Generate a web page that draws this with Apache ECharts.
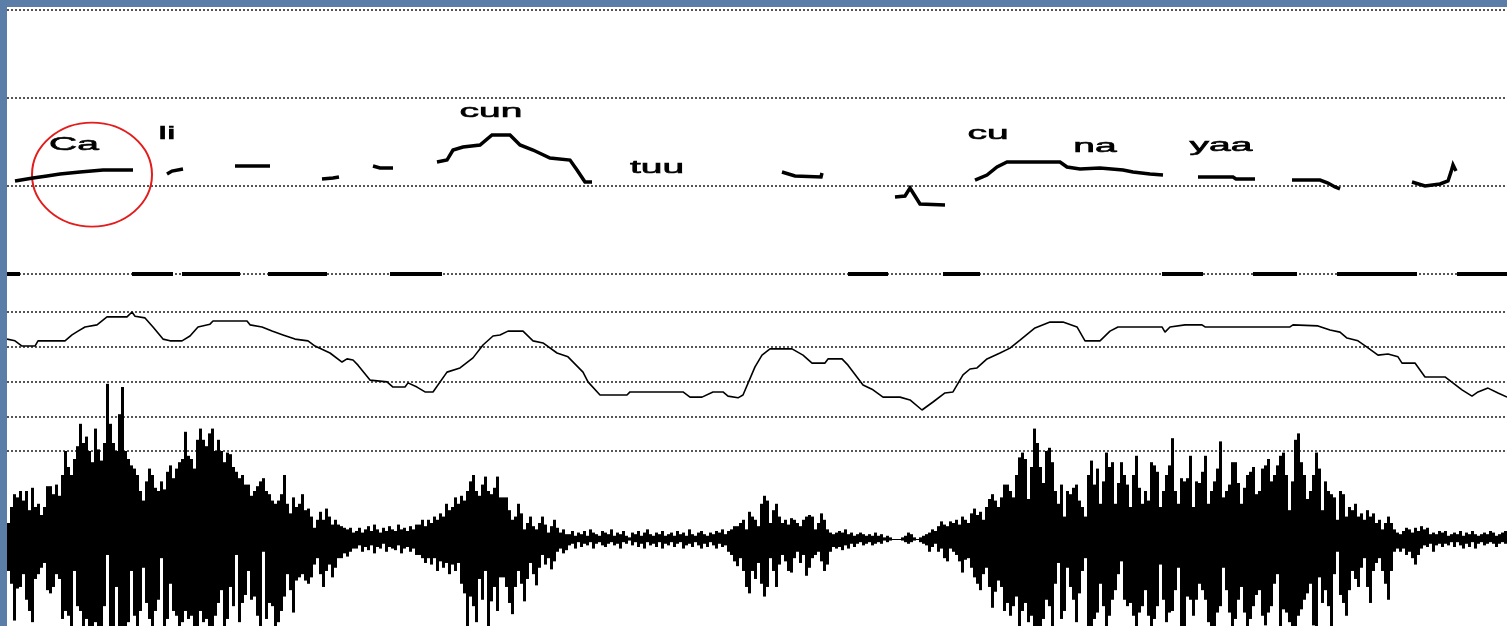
<!DOCTYPE html>
<html>
<head>
<meta charset="utf-8">
<script src="https://cdn.jsdelivr.net/npm/echarts@6/dist/echarts.min.js"></script>
<style>
  html, body { margin: 0; padding: 0; width: 1507px; height: 626px; overflow: hidden; background: #5a7ea7; }
  #chart { position: absolute; left: 7px; top: 7px; width: 1500px; height: 619px; background: #ffffff; }
</style>
</head>
<body>
<div id="chart"></div>
<script>
// Time axis in ms (0 .. 1500)

// Syllable labels and where they sit (time, Hz on the pitch scale)
const syllables    = ['Ca', 'li', 'cun', 'tuu', 'cu', 'na', 'yaa'];
const syllableTime = [67, 160, 484, 650, 981, 1088, 1214];
const syllableHz   = [147, 159.5, 184.5, 121.1, 159.5, 144.8, 145.9];

// Pitch contour (F0, Hz), one list of [time, Hz] per voiced stretch
const pitchSegments = [
  [[8,105.7],[26,109.1],[40,111.4],[53,113.6],[73,115.9],[96,118.2],[126,118.2]],
  [[160,113.6],[165,117],[176,119.3]],
  [[228,122.7],[263,122.7]],
  [[315,108],[326,109.1],[332,110.2]],
  [[366,122.7],[373,120.5],[386,120.5]],
  [[430,127.3],[440,129.5],[446,140.9],[456,144.3],[473,146.6],[485,158],[503,158],[513,146.6],[526,140.9],[543,131.8],[563,129.5],[570,118.2],[578,104.5],[585,104.5]],
  [[775,115.9],[788,111.4],[814,110.2],[815,114.8]],
  [[888,87.5],[898,88.6],[903,97.7],[908,88.6],[913,79.5],[938,78.4]],
  [[968,106.8],[980,112.5],[990,121.6],[1000,127.3],[1053,127.3],[1060,121.6],[1073,119.3],[1093,120.5],[1116,118.2],[1126,115.9],[1143,113.6],[1156,112.5]],
  [[1191,110.2],[1226,110.2],[1229,108],[1248,108]],
  [[1285,106.8],[1313,106.8],[1321,103.4],[1328,98.9],[1333,96.6]],
  [[1405,104.5],[1418,100],[1433,102.3],[1441,105.7],[1444,116],[1446,124],[1449,117]]
];

// Voicing marks on the 0 Hz line: [start, end] in ms
const voicedSpans = [[0,13],[125,166],[175,233],[261,320],[383,435],[841,881],[936,973],[1155,1196],[1246,1290],[1330,1410],[1450,1500]];

// Intensity contour (dB)
const intensityTime = [0,8,15,28,31,58,65,71,78,90,100,120,125,128,138,146,156,163,175,183,191,203,206,240,243,255,265,276,288,301,308,323,335,340,346,351,363,380,386,398,401,410,418,426,440,453,466,476,486,493,501,516,526,536,550,561,576,581,593,620,623,676,683,695,706,716,721,731,736,748,755,763,785,796,805,818,821,835,841,856,866,876,893,903,915,926,938,946,956,963,970,980,993,1003,1013,1028,1043,1056,1070,1078,1093,1103,1111,1155,1158,1163,1178,1195,1198,1283,1286,1311,1323,1333,1340,1351,1360,1371,1381,1391,1395,1408,1418,1438,1455,1465,1471,1481,1491,1500];
const intensityDb   = [72.2,71.7,70.2,70.2,71.7,71.7,73.4,74.5,75.7,76.3,78.6,78.6,80,78.8,78.3,75.7,72.2,71.7,71.7,73.1,75.7,76.5,77.4,77.4,76.3,75.7,74.5,73.4,72.2,71.7,70.2,68.2,65.6,66.5,66.2,64.7,60.4,59.9,58.4,58.4,59.6,58.4,57,57,62.7,63.9,66.8,70.5,73.1,73.4,74.5,74.5,71.7,71.1,68.2,67.1,62.7,59.9,56.1,56.1,57,57,55.5,55.5,57,57,55.8,55.3,56.1,64.2,67.6,69.4,69.4,67.6,65.3,65.3,66.5,66.5,64.7,59,57.6,55.5,55.5,54.7,51.8,54.1,56.7,57,61.9,63.6,63.9,66.5,68.2,69.6,71.9,75.4,77.1,77.1,75.7,71.7,71.7,74.5,75.7,75.7,74.2,75.7,76.3,76.3,75.7,75.7,76.3,76,74.8,74.2,72.5,71.7,69.9,67.6,67.9,67.1,65.3,65.3,61.3,61.3,57.6,55.8,57,58.1,56.7,55.5];

// Waveform envelope, one frame every 3 ms: positive and negative peaks (% of full scale)
const waveStepMs = 3;
const waveMax = [
  10,20,28,26,30,24,30,18,32,20, 22,15,20,33,33,28,34,27,40,55, 45,40,50,58,72,60,64,55,48,69, 56,49,60,97,72,60,55,78,95,55,
  50,46,44,40,30,24,36,44,40,32, 30,36,31,42,46,38,44,48,50,67, 52,50,44,62,69,62,58,66,69,55, 62,55,48,54,53,45,42,38,40,34,
  34,27,30,33,36,38,30,28,24,22, 24,28,40,22,16,26,20,22,28,18, 19,14,7,12,17,12,19,14,9,12, 9,8,7,6,7,4,
  5,7,4,6,8,5,9,6,4,7,5,8,6,5,9,6,7,5,8,6,9,
  9,12,8,12,10,14,12,16,14,22,18,20,26,22,27,24,30,36,40,30,27,34,39,30,28,32,39,26,
  26,26,18,12,14,22,16,6,10,14,8,6,10,14,9,4,8,12,7,4,6,3,
  3,5,2,4,3,5,2,6,4,3, 2,5,4,3,6,2,4,3,5,2, 1,4,3,5,2,4,6,3,2,4, 3,5,2,3,4,2,5,3,4,2, 6,3,2,4,5,3,2,4,3,5, 4,6,3,5,6,8,
  8,10,12,6,17,14,12,8,22,27,24,10,18,22,14,10,12,9,13,12,10,8,12,14,15,14,6,10,16,12,6,4,3,
  4,5,4,6,3,4,2,3,4,3,2,3,2,4,2,3,1,2,1,0,
  0,0,1,2,4,3,1,0,1,2,3,
  4,6,5,8,11,9,8,11,10,12,9,14,12,10,16,19,15,17,12,20,25,28,24,20,26,
  34,34,30,26,40,51,54,50,25,45, 69,60,45,35,55,57,48,30,22,34, 14,30,28,32,34,24,20,14,40,49, 34,44,22,36,54,45,48,22,35,48,
  40,34,20,40,52,32,22,30,24,48, 46,42,20,30,40,46,63,30,22,38, 36,38,52,20,36,35,42,52,22,30, 36,44,61,26,30,34,48,48,35,22,
  32,40,42,45,28,30,44,46,50,36, 40,46,52,54,40,18,36,62,66,48, 40,25,30,40,54,44,18,36,30,28,
  26,12,30,28,14,20,18,22,14,16, 12,18,14,16,10,12,6,10,14,10, 6,4,3,5,7,6,4,7,5,8, 6,7,3,4,3,5,4,5,2,3, 4,3,5,2,4,3,5,3,2,3, 4,3,5,4,2,3,4,5
];
const waveMin = [
  -20,-28,-51,-31,-30,-22,-38,-45,-52,-25, -22,-18,-15,-32,-34,-30,-22,-25,-50,-45, -48,-56,-20,-42,-45,-60,-50,-56,-60,-52, -60,-55,-42,-10,-58,-55,-30,-60,-60,-60,
  -52,-20,-48,-60,-45,-18,-40,-50,-56,-45, -38,-12,-55,-50,-28,-45,-48,-60,-52,-45, -50,-48,-60,-55,-45,-52,-50,-60,-58,-48, -40,-32,-56,-50,-30,-42,-10,-52,-40,-35,
  -20,-38,-36,-48,-56,-8,-50,-40,-42,-55, -52,-45,-36,-22,-32,-46,-26,-24,-22,-26, -28,-24,-16,-12,-22,-30,-20,-16,-24,-18, -12,-12,-9,-11,-8,-6,
  -6,-4,-8,-5,-7,-4,-9,-5,-6,-3,-8,-5,-6,-7,-4,-9,-6,-5,-8,-6,-10,
  -10,-12,-15,-12,-16,-12,-20,-14,-18,-15,-22,-16,-20,-15,-28,-34,-56,-36,-42,-52,-25,-38,-20,-56,-39,-30,-45,-24,
  -24,-30,-40,-47,-30,-20,-28,-39,-25,-15,-22,-29,-18,-10,-16,-12,-19,-14,-8,-6,-9,-7,
  -4,-3,-6,-2,-5,-3,-4,-2,-6,-3, -2,-4,-5,-3,-2,-4,-3,-6,-2,-3, -1,-4,-2,-5,-3,-6,-2,-4,-3,-5, -2,-6,-3,-4,-2,-5,-3,-2,-6,-4, -3,-5,-2,-4,-6,-3,-5,-2,-4,-6, -3,-5,-4,-8,-10,-14,
  -17,-12,-20,-30,-34,-20,-25,-15,-28,-36,-30,-12,-20,-30,-16,-10,-14,-20,-21,-12,-8,-15,-10,-23,-18,-12,-10,-8,-14,-20,-16,-8,-5,
  -6,-5,-7,-4,-6,-3,-5,-3,-2,-4,-3,-2,-4,-3,-2,-3,-1,-2,-1,0,
  0,0,-1,-2,-3,-2,-1,0,-2,-3,-4,
  -8,-5,-3,-8,-6,-12,-14,-6,-8,-10,-14,-21,-13,-12,-18,-24,-28,-32,-22,-18,-30,-43,-33,-26,-30,
  -45,-40,-48,-42,-36,-56,-45,-40,-52,-48, -60,-55,-58,-50,-38,-42,-60,-28,-15,-50, -45,-18,-30,-38,-52,-34,-20,-12,-55,-60, -50,-46,-28,-42,-60,-48,-38,-32,-22,-14,
  -38,-42,-40,-48,-60,-46,-42,-32,-48,-60, -50,-42,-16,-38,-52,-46,-45,-32,-18,-58, -60,-36,-38,-48,-38,-28,-32,-38,-52,-58, -60,-46,-42,-18,-32,-46,-55,-50,-38,-30,
  -46,-60,-50,-42,-35,-32,-48,-54,-46,-42, -28,-22,-60,-44,-46,-52,-55,-60,-48,-44, -38,-34,-28,-54,-60,-24,-40,-32,-42,-60,
  -22,-8,-35,-40,-48,-32,-20,-25,-30,-18, -12,-30,-40,-20,-15,-12,-20,-28,-38,-20, -8,-6,-8,-6,-10,-8,-12,-16,-10,-6, -4,-5,-3,-8,-4,-3,-5,-3,-4,-2, -5,-2,-4,-6,-3,-5,-2,-6,-3,-2, -4,-3,-2,-3,-5,-3,-2,-3
];

// Red highlight around the first syllable: centre (time, Hz)
const calloutCenter = [85, 113];

const dotted = { color: '#555', width: 2, type: [2, 2] };
const hiddenY = { axisLine: { show: false }, axisTick: { show: false }, axisLabel: { show: false } };
const timeAxis = (gridIndex) => ({ type: 'value', gridIndex, min: 0, max: 1500, show: false });

const chart = echarts.init(document.getElementById('chart'), null, { renderer: 'canvas' });

const series = [];

// voicing bars on the 0 Hz line
voicedSpans.forEach(([s, e]) => {
  series.push({
    type: 'line', xAxisIndex: 0, yAxisIndex: 0, clip: false, silent: true,
    showSymbol: false, data: [[s, 0], [e, 0]],
    lineStyle: { color: '#000', width: 4, cap: 'butt' }
  });
});

// F0 contour
pitchSegments.forEach(seg => {
  series.push({
    type: 'line', xAxisIndex: 0, yAxisIndex: 0, clip: false, silent: true,
    showSymbol: false, data: seg,
    lineStyle: { color: '#000', width: 3.5, join: 'miter' }
  });
});

// intensity contour
series.push({
  type: 'line', xAxisIndex: 1, yAxisIndex: 1, clip: false, silent: true,
  showSymbol: false,
  data: intensityTime.map((t, i) => [t, intensityDb[i]]),
  lineStyle: { color: '#000', width: 1.6 }
});

// waveform frames
series.push({
  type: 'custom', xAxisIndex: 2, yAxisIndex: 2, silent: true, clip: false,
  data: waveMax.map((hi, i) => [i * waveStepMs, waveMin[i], hi]),
  encode: { x: 0, y: [1, 2] },
  renderItem: (params, api) => {
    const t = api.value(0);
    const top = api.coord([t, api.value(2)]);
    const bottom = api.coord([t, api.value(1)]);
    const w = api.size([waveStepMs, 0])[0];
    return {
      type: 'rect',
      shape: { x: top[0], y: top[1], width: w, height: Math.max(bottom[1] - top[1], 1) },
      style: { fill: '#000' }
    };
  }
});

// syllable labels
series.push({
  type: 'custom', xAxisIndex: 0, yAxisIndex: 0, silent: true,
  data: syllableTime.map((t, i) => [t, syllableHz[i]]),
  renderItem: (params, api) => {
    const p = api.coord([api.value(0), api.value(1)]);
    return {
      type: 'text', x: p[0], y: p[1], scaleX: 2.05,
      style: {
        text: syllables[params.dataIndex], x: 0, y: 0,
        fill: '#000', stroke: '#000', lineWidth: 0.6,
        font: '19px "Liberation Sans", Arial, sans-serif',
        align: 'center', verticalAlign: 'middle',
        textAlign: 'center', textVerticalAlign: 'middle'
      }
    };
  }
});

// red ring around "Ca"
series.push({
  type: 'custom', xAxisIndex: 0, yAxisIndex: 0, silent: true,
  data: [calloutCenter],
  renderItem: (params, api) => {
    const p = api.coord([api.value(0), api.value(1)]);
    return {
      type: 'circle', x: p[0], y: p[1], scaleY: 52 / 60,
      shape: { cx: 0, cy: 0, r: 60 },
      style: { fill: 'none', stroke: '#e31c1c', lineWidth: 2, strokeNoScale: true }
    };
  }
});

chart.setOption({
  animation: false,
  backgroundColor: '#ffffff',
  grid: [
    { left: 0, right: 0, top: 3, bottom: 352 },   // pitch, 0..300 Hz
    { left: 0, right: 0, top: 305, bottom: 175 }, // intensity, 40..80 dB
    { left: 0, right: 0, top: 372, bottom: 0 }    // waveform, lower half runs off the bottom edge
  ],
  xAxis: [timeAxis(0), timeAxis(1), timeAxis(2)],
  yAxis: [
    Object.assign({ type: 'value', gridIndex: 0, min: 0, max: 300, interval: 100,
      splitLine: { show: true, lineStyle: dotted } }, hiddenY),
    Object.assign({ type: 'value', gridIndex: 1, min: 40, max: 80, interval: 10,
      splitLine: { show: true, lineStyle: dotted } }, hiddenY),
    Object.assign({ type: 'value', gridIndex: 2, min: -54.4, max: 100,
      splitLine: { show: false } }, hiddenY)
  ],
  series
});
</script>
</body>
</html>
